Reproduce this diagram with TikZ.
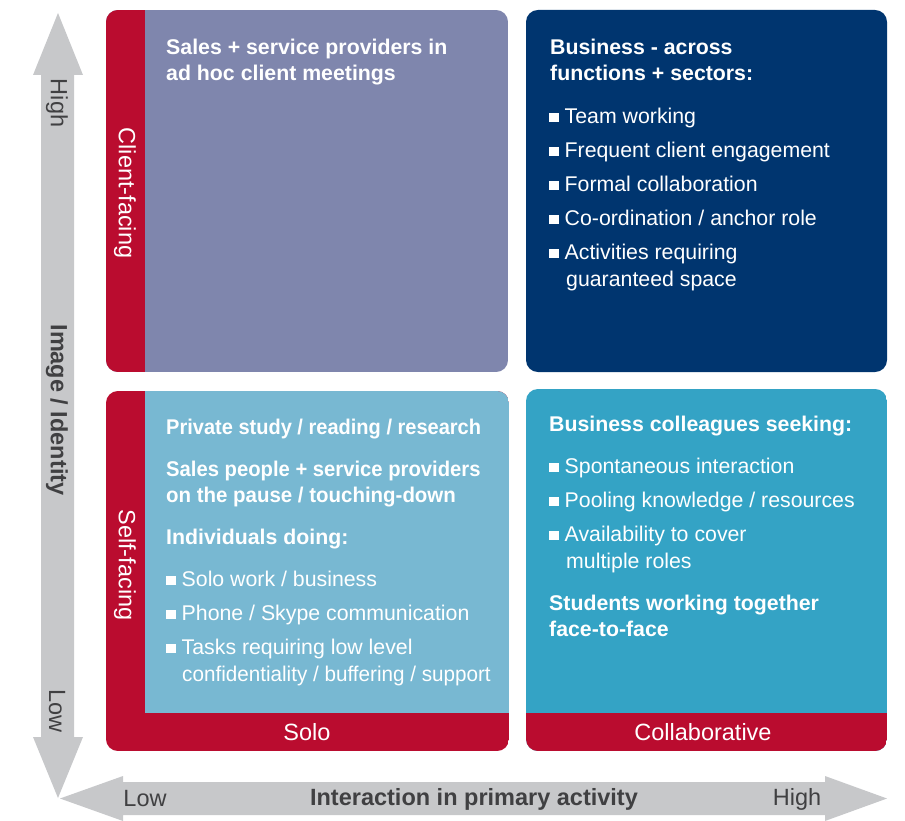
\documentclass[tikz,border=0pt]{standalone}
\usepackage{fontspec}
\setmainfont{Liberation Sans}
\definecolor{cred}{HTML}{BA0C2F}
\definecolor{cpurple}{HTML}{7F86AD}
\definecolor{cnavy}{HTML}{00356F}
\definecolor{clight}{HTML}{78B8D2}
\definecolor{cteal}{HTML}{34A3C5}
\definecolor{cgray}{HTML}{C7C8CA}
\definecolor{ctext}{HTML}{404042}
\newcommand{\bsq}{\textcolor{white}{\rule[1bp]{9.5bp}{9.5bp}}}
\tikzset{
  body/.style={anchor=base west, inner sep=0pt, text=white, font=\fontsize{21.3bp}{26bp}\selectfont},
  bbody/.style={body, font=\fontsize{21.3bp}{26bp}\selectfont\bfseries},
  lab/.style={inner sep=0pt, text=white, font=\fontsize{23.5bp}{28bp}\selectfont},
  axl/.style={inner sep=0pt, text=ctext, font=\fontsize{23.5bp}{28bp}\selectfont},
  axb/.style={axl, font=\fontsize{23.5bp}{28bp}\selectfont\bfseries},
}
\begin{document}
\begin{tikzpicture}[x=1bp,y=-1bp]
\useasboundingbox (0,0) rectangle (905,821);
% axes arrows
\fill[cgray] (41,75) -- (33,75) -- (58,13) -- (83,75) -- (74,75) -- (74,737) -- (83,737) -- (58,798) -- (33,737) -- (41,737) -- cycle;
\fill[cgray] (123,782) -- (123,776) -- (60,798.5) -- (123,821) -- (123,815) -- (825,815) -- (825,821) -- (887,798.5) -- (825,776) -- (825,782) -- cycle;
% top-left
\begin{scope}
\clip[rounded corners=12] (106,10) rectangle (508,372);
\fill[cpurple] (106,10) rectangle (508,372);
\fill[cred] (106,10) rectangle (145,372);
\end{scope}
% top-right
\fill[cnavy, rounded corners=12] (526,10) rectangle (887,372);
% bottom-left
\begin{scope}
\clip[rounded corners=12] (106,391) rectangle (509,751);
\fill[cred] (106,391) rectangle (509,751);
\fill[clight] (145,391) rectangle (509,713);
\end{scope}
% bottom-right
\begin{scope}
\clip[rounded corners=12] (526,389) rectangle (887,751);
\fill[cteal] (526,389) rectangle (887,751);
\fill[cred] (526,713) rectangle (887,751);
\end{scope}
% labels
\node[lab, rotate=-90] (cf) at (125,193) {Client-facing};
\node[lab, rotate=-90] (sf) at (125,565) {Self-facing};
\node[lab] (solo) at (307,732) {Solo};
\node[lab] (collab) at (703,732) {Collaborative};
% axis labels
\node[axl, rotate=-90] (vh) at (57,103) {High};
\node[axl, rotate=-90] (vl) at (57,711) {Low};
\node[axb, rotate=-90] (vt) at (57,410) {Image / Identity};
\node[axl] (hl) at (145,799) {Low};
\node[axb] (ht) at (474,799) {Interaction in primary activity};
\node[axl] (hh) at (797,799) {High};
% top-left text
\node[bbody] (tl1) at (166,55) {Sales + service providers in};
\node[bbody] (tl2) at (166,81) {ad hoc client meetings};
% top-right text
\node[bbody] (tr1) at (550,55) {Business - across};
\node[bbody] (tr2) at (550,81) {functions + sectors:};
\node[body] (tr3) at (549,123) {\bsq\hspace{6bp}Team working};
\node[body] (tr4) at (549,157) {\bsq\hspace{6bp}Frequent client engagement};
\node[body] (tr5) at (549,191) {\bsq\hspace{6bp}Formal collaboration};
\node[body] (tr6) at (549,225) {\bsq\hspace{6bp}Co-ordination / anchor role};
\node[body] (tr7) at (549,259) {\bsq\hspace{6bp}Activities requiring};
\node[body] (tr8) at (566,286) {guaranteed space};
% bottom-left text
\node[bbody] (bl1) at (166,434) {\scalebox{0.94}[1]{Private study / reading / research}};
\node[bbody] (bl2) at (166,476) {\scalebox{0.95}[1]{Sales people + service providers}};
\node[bbody] (bl3) at (166,502) {\scalebox{0.96}[1]{on the pause / touching-down}};
\node[bbody] (bl4) at (166,544) {Individuals doing:};
\node[body] (bl5) at (166,586) {\bsq\hspace{6bp}Solo work / business};
\node[body] (bl6) at (166,620) {\bsq\hspace{6bp}Phone / Skype communication};
\node[body] (bl7) at (166,654) {\bsq\hspace{6bp}Tasks requiring low level};
\node[body] (bl8) at (182,681) {\scalebox{0.97}[1]{confidentiality / buffering / support}};
% bottom-right text
\node[bbody] (br1) at (549,431) {Business colleagues seeking:};
\node[body] (br2) at (549,473) {\bsq\hspace{6bp}Spontaneous interaction};
\node[body] (br3) at (549,507) {\bsq\hspace{6bp}Pooling knowledge / resources};
\node[body] (br4) at (549,541) {\bsq\hspace{6bp}Availability to cover};
\node[body] (br5) at (566,568) {multiple roles};
\node[bbody] (br6) at (549,610) {Students working together};
\node[bbody] (br7) at (549,636) {face-to-face};
\end{tikzpicture}
\end{document}
